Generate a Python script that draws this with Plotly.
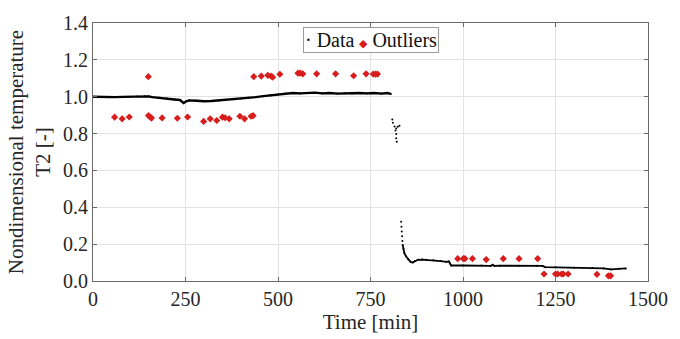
import plotly.graph_objects as go

# ---- Data ----
# steady phase
seg1_t = [0, 20, 40, 60, 80, 100, 120, 140, 150, 160, 180, 200, 220, 235, 245, 252, 260, 280, 300,
          320, 340, 360, 380, 400, 420, 440, 460, 480, 500, 520, 540, 560, 580, 600, 620, 640, 660,
          680, 700, 720, 740, 760, 780, 795, 805]
seg1_v = [1.000, 0.998, 0.997, 0.998, 0.999, 1.000, 1.001, 1.003, 1.002, 0.998, 0.995, 0.990, 0.985,
          0.982, 0.966, 0.975, 0.980, 0.978, 0.975, 0.977, 0.980, 0.983, 0.986, 0.990, 0.994, 0.998,
          1.003, 1.007, 1.012, 1.018, 1.020, 1.018, 1.020, 1.022, 1.018, 1.020, 1.017, 1.019, 1.017,
          1.020, 1.018, 1.020, 1.017, 1.020, 1.015]
# isolated samples during the transition
jump_t = [808.9, 810.5, 815.0, 819.5, 823.7, 828.2, 817.5, 819.5, 819.5, 821.0,
          832.8, 833.6, 834.4, 835.4, 836.2]
jump_v = [0.876, 0.859, 0.838, 0.828, 0.837, 0.842, 0.816, 0.798, 0.775, 0.755,
          0.321, 0.295, 0.269, 0.243, 0.217]
# decay phase
seg2_t = [837, 839, 841.5, 846, 852, 858, 864, 870, 878, 890, 900, 920, 940, 955, 962, 965, 968,
          1000, 1050, 1075, 1080, 1085, 1100, 1150, 1200, 1215, 1222, 1250, 1300, 1350, 1380, 1400,
          1420, 1440]
seg2_v = [0.196, 0.173, 0.151, 0.134, 0.116, 0.104, 0.100, 0.108, 0.115, 0.116, 0.115, 0.112, 0.108,
          0.104, 0.106, 0.095, 0.084, 0.084, 0.084, 0.082, 0.088, 0.082, 0.083, 0.083, 0.083, 0.082,
          0.075, 0.074, 0.072, 0.070, 0.068, 0.063, 0.066, 0.068]

# outliers
out_t = [149.5, 58.4, 78.8, 98, 150, 155, 158, 186.7, 228, 255.7, 299, 316.8, 334.5, 350, 357, 368,
         397, 409.6, 427.4, 432.7, 434.5, 454.8, 472.5, 481.3, 485.7, 505, 554, 560, 567, 604.4,
         655.7, 704.4, 738, 757.5, 763.7, 769,
         985.7, 1000.8, 1005.2, 1025.5, 1062.7, 1108.9, 1151.4, 1201.8,
         1219, 1250, 1256, 1266.5, 1271, 1284, 1362, 1393, 1399]
out_v = [1.109, 0.889, 0.880, 0.890, 0.897, 0.889, 0.884, 0.885, 0.883, 0.890, 0.866, 0.880, 0.871,
         0.889, 0.886, 0.880, 0.894, 0.880, 0.894, 0.897, 1.109, 1.112, 1.116, 1.112, 1.106, 1.122,
         1.128, 1.128, 1.124, 1.124, 1.124, 1.114, 1.124, 1.123, 1.123, 1.123,
         0.121, 0.121, 0.121, 0.121, 0.116, 0.121, 0.121, 0.121,
         0.038, 0.038, 0.038, 0.038, 0.038, 0.038, 0.036, 0.028, 0.028]

x_ticks = [0, 250, 500, 750, 1000, 1250, 1500]
y_ticks = [0.0, 0.2, 0.4, 0.6, 0.8, 1.0, 1.2, 1.4]
series_names = ["Data", "Outliers"]

FONT = "Liberation Serif"
RED = "#d91c1c"
fig = go.Figure()

# continuous sampled segments drawn as lines (no legend)
fig.add_trace(go.Scatter(x=seg1_t, y=seg1_v, mode="lines", line=dict(color="black", width=2.4),
                         showlegend=False, hoverinfo="skip"))
fig.add_trace(go.Scatter(x=seg2_t, y=seg2_v, mode="lines", line=dict(color="black", width=1.8),
                         showlegend=False, hoverinfo="skip"))
# data points
fig.add_trace(go.Scatter(x=seg1_t + jump_t + seg2_t, y=seg1_v + jump_v + seg2_v, mode="markers",
                         name=series_names[0], marker=dict(color="black", size=2), showlegend=False))
fig.add_trace(go.Scatter(x=out_t, y=out_v, mode="markers", name=series_names[1], showlegend=False,
                         marker=dict(color=RED, size=5.5, symbol="diamond")))

# compact MATLAB-style legend box
fig.add_annotation(
    xref="paper", yref="paper", x=0.5, y=0.985, xanchor="center", yanchor="top",
    text=(f"·&nbsp;{series_names[0]}&nbsp;"
          f"<span style='color:{RED};font-size:11px'>◆</span>&nbsp;{series_names[1]}"),
    showarrow=False, font=dict(family=FONT, size=20, color="#111"),
    bgcolor="white", bordercolor="#9a9a9a", borderwidth=1, borderpad=1,
)

axis_common = dict(showgrid=True, gridcolor="#e3e3e3", gridwidth=1, zeroline=False,
                   showline=True, linecolor="#6a6a6a", linewidth=1, mirror="ticks",
                   ticks="inside", ticklen=4, tickcolor="#6a6a6a",
                   tickfont=dict(family=FONT, size=20, color="#262626"))

fig.update_layout(
    width=680, height=339,
    margin=dict(l=93, r=22, t=16, b=54),
    paper_bgcolor="white", plot_bgcolor="white",
    font=dict(family=FONT, color="#262626"),
    showlegend=False,
    xaxis=dict(range=[0, 1500], tickvals=x_ticks, ticktext=[str(v) for v in x_ticks],
               title=dict(text="Time [min]", font=dict(family=FONT, size=21), standoff=2),
               **axis_common),
    yaxis=dict(range=[0, 1.4], tickvals=y_ticks, ticktext=[f"{v:.1f}" for v in y_ticks],
               title=dict(text="Nondimensional temperature<br>T2 [-]",
                          font=dict(family=FONT, size=21), standoff=6),
               **axis_common),
)

fig.write_html("out.html")
